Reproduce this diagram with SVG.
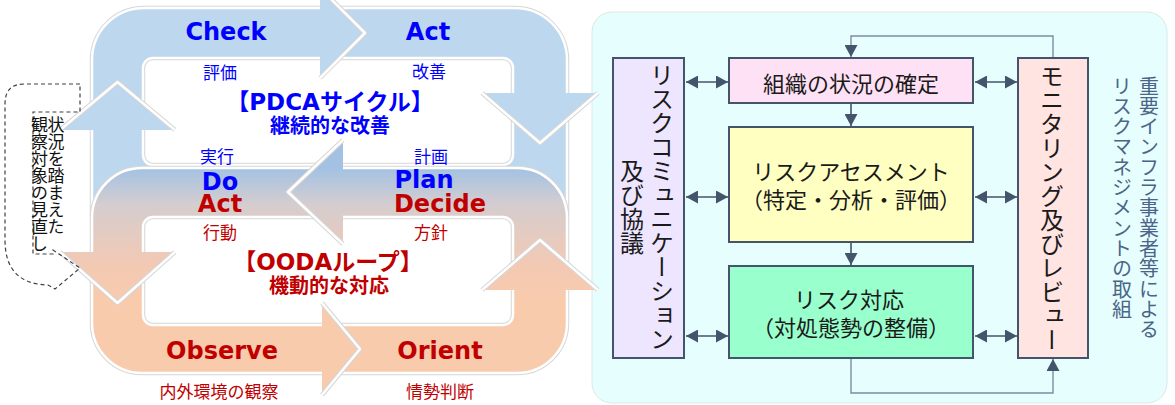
<svg xmlns="http://www.w3.org/2000/svg" width="1175" height="405" viewBox="0 0 1175 405">
<defs>
<linearGradient id="oodaG" gradientUnits="userSpaceOnUse" x1="0" y1="168" x2="0" y2="300">
<stop offset="0" stop-color="#A3C2E3"/>
<stop offset="0.28" stop-color="#D5CDCF"/>
<stop offset="0.74" stop-color="#F3C9B3"/>
<stop offset="1" stop-color="#F8CBAD"/>
</linearGradient>
<marker id="ah" viewBox="0 0 12 13" refX="12" refY="6.5" markerWidth="12" markerHeight="13" markerUnits="userSpaceOnUse" orient="auto-start-reverse">
<path d="M0,0 L12,6.5 L0,13 z" fill="#44546A"/>
</marker>
<style>
.halo{fill:none;stroke:#d6d6d6;stroke-width:4.5;stroke-linejoin:round}
.edge{fill:none;stroke:#fff;stroke-width:2.5;stroke-linejoin:round}
.en{font-family:"DejaVu Sans","Noto Sans CJK JP",sans-serif;font-weight:bold;font-size:24px;text-anchor:middle}
.jpb{font-family:"DejaVu Sans","Noto Sans CJK JP",sans-serif;font-weight:bold;text-anchor:middle}
.lbl{font-family:"Noto Sans CJK JP",sans-serif;font-size:17px;text-anchor:middle;dominant-baseline:central}
.blue{fill:#0000FF}
.red{fill:#C00000}
.box{stroke:#44546A;stroke-width:2}
.bt{font-family:"Noto Sans CJK JP",sans-serif;font-size:22px;fill:#1a1a1a;text-anchor:middle;dominant-baseline:central}
.vt{font-family:"Noto Sans CJK JP",sans-serif;font-size:24px;fill:#1a1a1a;writing-mode:vertical-rl;text-anchor:middle}
.vs{font-family:"Noto Sans CJK JP",sans-serif;font-size:20px;fill:#4A6587;writing-mode:vertical-rl;letter-spacing:0.3px}
.vd{font-family:"Noto Sans CJK JP",sans-serif;font-size:17px;fill:#111;writing-mode:vertical-rl}
.conn{fill:none;stroke:#44546A;stroke-width:1.6}
.fb{fill:none;stroke:#7D8DA3;stroke-width:1.4}
</style>
</defs>

<!-- right panel background -->
<rect id="panel" x="592" y="12" width="575" height="391" rx="20" fill="#E6FEFE" stroke="#DCE8E8" stroke-width="1"/>

<!-- PDCA ring -->
<g id="pdca-ring">
<path d="M92,215 L92,60 A52,52 0 0 1 144,8 L515,8 A52,52 0 0 1 567,60 L567,215 Z M153,58 L503,58 A10,10 0 0 1 513,68 L513,155 A10,10 0 0 1 503,165 L153,165 A10,10 0 0 1 143,155 L143,68 A10,10 0 0 1 153,58 Z" fill="#BDD7EE" fill-rule="evenodd" stroke="#d6d6d6" stroke-width="4.5"/>
<path d="M92,215 L92,60 A52,52 0 0 1 144,8 L515,8 A52,52 0 0 1 567,60 L567,215 Z M153,58 L503,58 A10,10 0 0 1 513,68 L513,155 A10,10 0 0 1 503,165 L153,165 A10,10 0 0 1 143,155 L143,68 A10,10 0 0 1 153,58 Z" fill="#BDD7EE" fill-rule="evenodd" stroke="#fff" stroke-width="2.5"/>
</g>
<g id="pdca-arrows">
<polygon points="60,130 117.5,82 175,130" fill="#BDD7EE"/>
<polyline class="halo" points="60,130 117.5,82 175,130"/>
<polyline class="edge" points="60,130 117.5,82 175,130"/>
<polygon points="320,-12 365,33 320,78" fill="#BDD7EE"/>
<polyline class="halo" points="320,-12 365,33 320,78"/>
<polyline class="edge" points="320,-12 365,33 320,78"/>
<polygon points="482,93 540,143 598,93" fill="#BDD7EE"/>
<polyline class="halo" points="482,93 540,143 598,93"/>
<polyline class="edge" points="482,93 540,143 598,93"/>
</g>

<!-- OODA ring -->
<g id="ooda-ring">
<path d="M142,168 L517,168 A50,50 0 0 1 567,218 L567,323 A50,50 0 0 1 517,373 L142,373 A50,50 0 0 1 92,323 L92,218 A50,50 0 0 1 142,168 Z M153,217 L503,217 A10,10 0 0 1 513,227 L513,315 A10,10 0 0 1 503,325 L153,325 A10,10 0 0 1 143,315 L143,227 A10,10 0 0 1 153,217 Z" fill="url(#oodaG)" fill-rule="evenodd" stroke="#d6d6d6" stroke-width="4.5"/>
<path d="M142,168 L517,168 A50,50 0 0 1 567,218 L567,323 A50,50 0 0 1 517,373 L142,373 A50,50 0 0 1 92,323 L92,218 A50,50 0 0 1 142,168 Z M153,217 L503,217 A10,10 0 0 1 513,227 L513,315 A10,10 0 0 1 503,325 L153,325 A10,10 0 0 1 143,315 L143,227 A10,10 0 0 1 153,217 Z" fill="url(#oodaG)" fill-rule="evenodd" stroke="#fff" stroke-width="2.5"/>
</g>
<g id="ooda-arrows">
<polygon points="60,252 117.5,303 175,252" fill="url(#oodaG)"/>
<polyline class="halo" points="60,252 117.5,303 175,252"/>
<polyline class="edge" points="60,252 117.5,303 175,252"/>
<polygon points="322,303 360,349 322,395" fill="#F8CBAD"/>
<polyline class="halo" points="322,303 360,349 322,395"/>
<polyline class="edge" points="322,303 360,349 322,395"/>
<polygon points="482,290 540,240 598,290" fill="url(#oodaG)"/>
<polyline class="halo" points="482,290 540,240 598,290"/>
<polyline class="edge" points="482,290 540,240 598,290"/>
<polygon points="343,140 288,192 343,244" fill="url(#oodaG)"/>
<polyline class="halo" points="343,140 288,192 343,244"/>
<polyline class="edge" points="343,140 288,192 343,244"/>
</g>

<!-- cycle texts -->
<g id="pdca-text">
<text class="en blue" x="226" y="40">Check</text>
<text class="en blue" x="428" y="40">Act</text>
<text class="lbl blue" x="220" y="71">評価</text>
<text class="lbl blue" x="429" y="70">改善</text>
<text class="jpb blue" x="330" y="110" font-size="23">【PDCAサイクル】</text>
<text class="jpb blue" x="330" y="133" font-size="20">継続的な改善</text>
<text class="lbl blue" x="217" y="155">実行</text>
<text class="lbl blue" x="431" y="155">計画</text>
<text class="en blue" x="220" y="190">Do</text>
<text class="en blue" x="424" y="188">Plan</text>
</g>
<g id="ooda-text">
<text class="en red" x="220" y="212">Act</text>
<text class="en red" x="440" y="212">Decide</text>
<text class="lbl red" x="220" y="231">行動</text>
<text class="lbl red" x="431" y="231">方針</text>
<text class="jpb red" x="328" y="270" font-size="23">【OODAループ】</text>
<text class="jpb red" x="329" y="293" font-size="20">機動的な対応</text>
<text class="en red" x="222" y="359">Observe</text>
<text class="en red" x="440" y="359">Orient</text>
<text class="lbl red" x="219" y="390">内外環境の観察</text>
<text class="lbl red" x="440" y="390">情勢判断</text>
</g>

<!-- dashed review loop -->
<g id="review-loop">
<path d="M80,84 L24,84 Q5,84 5,104 L5,240 Q5,284 48,285 L55,289 L80,268 L53,250 L53,254 L33,254 L33,112 L80,112 Z" fill="none" stroke="#404040" stroke-width="1.2" stroke-dasharray="4 3"/>
<text class="vd" x="56" y="116">状況を踏まえた</text>
<text class="vd" x="39.5" y="116">観察対象の見直し</text>
</g>

<!-- right side boxes -->
<g id="comm">
<rect class="box" x="613" y="58" width="71" height="300" fill="#EEE6FF"/>
<text class="vt" x="662" y="207">リスクコミュニケーション</text>
<text class="vt" x="632" y="207">及び協議</text>
</g>
<g id="context">
<rect class="box" x="729" y="58" width="244" height="45" fill="#FFE1F5"/>
<text class="bt" x="851" y="82" font-size="23">組織の状況の確定</text>
</g>
<g id="assessment">
<rect class="box" x="729" y="127" width="244" height="115" fill="#FFFFC1"/>
<text class="bt" x="851" y="170">リスクアセスメント</text>
<text class="bt" x="851" y="198">（特定・分析・評価）</text>
</g>
<g id="treatment">
<rect class="box" x="729" y="266" width="244" height="92" fill="#99FFCC"/>
<text class="bt" x="849" y="298">リスク対応</text>
<text class="bt" x="851" y="326">（対処態勢の整備）</text>
</g>
<g id="monitor">
<rect class="box" x="1018" y="58" width="70" height="300" fill="#FFE4E1"/>
<text class="vt" x="1052" y="208">モニタリング及びレビュー</text>
</g>
<g id="title">
<text class="vs" x="1149" y="76">重要インフラ事業者等による</text>
<text class="vs" x="1122" y="76">リスクマネジメントの取組</text>
</g>

<!-- connectors -->
<g id="connectors">
<line class="conn" x1="686" y1="82" x2="728" y2="82" marker-start="url(#ah)" marker-end="url(#ah)"/>
<line class="conn" x1="686" y1="197" x2="728" y2="197" marker-start="url(#ah)" marker-end="url(#ah)"/>
<line class="conn" x1="686" y1="336" x2="728" y2="336" marker-start="url(#ah)" marker-end="url(#ah)"/>
<line class="conn" x1="975" y1="82" x2="1017" y2="82" marker-start="url(#ah)" marker-end="url(#ah)"/>
<line class="conn" x1="975" y1="197" x2="1017" y2="197" marker-start="url(#ah)" marker-end="url(#ah)"/>
<line class="conn" x1="975" y1="336" x2="1017" y2="336" marker-start="url(#ah)" marker-end="url(#ah)"/>
<line class="conn" x1="851" y1="104" x2="851" y2="126" marker-end="url(#ah)"/>
<line class="conn" x1="851" y1="243" x2="851" y2="265" marker-end="url(#ah)"/>
<polyline class="fb" points="1053,57 1053,36 851,36 851,57" marker-end="url(#ah)"/>
<polyline class="fb" points="851,359 851,393 1053,393 1053,359" marker-end="url(#ah)"/>
</g>
</svg>
